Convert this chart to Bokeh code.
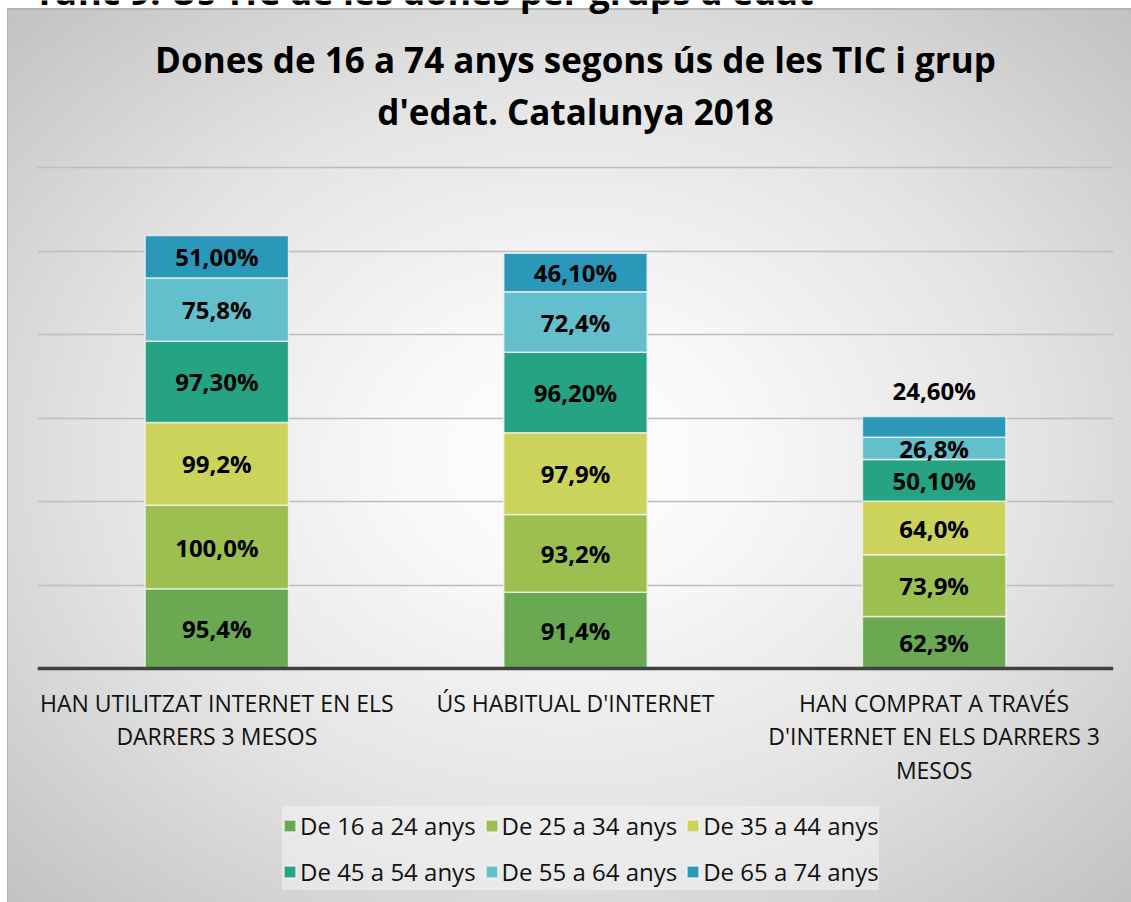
from bokeh.plotting import figure
from bokeh.models import ColumnDataSource, FactorRange, Range1d, FixedTicker, Span, Legend, LegendItem
from bokeh.core.properties import value
from bokeh.embed import file_html
from bokeh.resources import INLINE

# ---------------- data ----------------
categories = [
    "HAN UTILITZAT INTERNET EN ELS\nDARRERS 3 MESOS",
    "ÚS HABITUAL D'INTERNET",
    "HAN COMPRAT A TRAVÉS\nD'INTERNET EN ELS DARRERS 3\nMESOS",
]
series_names = ["De 16 a 24 anys", "De 25 a 34 anys", "De 35 a 44 anys",
                "De 45 a 54 anys", "De 55 a 64 anys", "De 65 a 74 anys"]
v_16_24 = [95.4, 91.4, 62.3]
v_25_34 = [100.0, 93.2, 73.9]
v_35_44 = [99.2, 97.9, 64.0]
v_45_54 = [97.3, 96.2, 50.1]
v_55_64 = [75.8, 72.4, 26.8]
v_65_74 = [51.0, 46.1, 24.6]
label_decimals = [1, 1, 1, 2, 1, 2]
colors = ["#6AA852", "#9CBF50", "#CBD35A", "#26A383", "#62BFCB", "#2B98BA"]
title_lines = ["Dones de 16 a 74 anys segons ús de les TIC i grup",
               "d'edat. Catalunya 2018"]
page_caption = "Gràfic 9. Ús TIC de les dones per grups d'edat"
grid_ticks = [100, 200, 300, 400, 500, 600]

series_values = [v_16_24, v_25_34, v_35_44, v_45_54, v_55_64, v_65_74]
keys = ["s%d" % i for i in range(6)]

FONT = "Open Sans"

data = {"cat": categories}
for k, vals in zip(keys, series_values):
    data[k] = vals
source = ColumnDataSource(data)

bg = ("linear-gradient(#b4b4b4,#b4b4b4) 7px 8px / 100% 2px no-repeat, "
      "linear-gradient(#b4b4b4,#b4b4b4) 7px 8px / 1px 100% no-repeat, "
      "radial-gradient(ellipse farthest-corner at 50% 50%, #ffffff 0%, #f8f8f8 22%, #e4e4e4 58%, #c2c2c2 100%) "
      "8px 10px / calc(100% - 8px) calc(100% - 10px) no-repeat, #ffffff")

p = figure(
    width=1131, height=902,
    x_range=FactorRange(*categories, range_padding=0),
    y_range=Range1d(-280.2, 800.0),
    output_backend="svg", toolbar_location=None,
    min_border_left=37, min_border_right=18, min_border_top=0, min_border_bottom=0,
    styles={"background": bg},
)
p.border_fill_alpha = 0
p.background_fill_alpha = 0
p.outline_line_color = None
p.xaxis.visible = False
p.yaxis.visible = False
p.xgrid.grid_line_color = None
p.yaxis.ticker = FixedTicker(ticks=grid_ticks)
p.ygrid.ticker = FixedTicker(ticks=grid_ticks)
p.ygrid.grid_line_color = "#bdbdbd"
p.ygrid.grid_line_width = 1.5

renderers = p.vbar_stack(keys, x="cat", width=0.4, color=colors, source=source,
                         line_color="#f2f2f2", line_width=1.5, line_alpha=0.8)

p.add_layout(Span(location=0, dimension="width", line_color="#404040", line_width=3.5))

# value labels
lx, ly, lt = [], [], []
for ci, cat in enumerate(categories):
    cum = 0.0
    for si, vals in enumerate(series_values):
        val = vals[ci]
        mid = cum + val / 2
        if si == len(series_values) - 1 and val < 25:
            mid = cum + val + 31
        cum += val
        s = ("{:.%df}%%" % label_decimals[si]).format(val).replace(".", ",")
        lx.append(cat); ly.append(mid); lt.append(s)
p.text(x=lx, y=ly, text=lt, text_align="center", text_baseline="middle",
       text_font=value(FONT), text_font_style="bold", text_font_size="24px",
       text_color="#000000")

# category labels
cx, cy, ct = [], [], []
for cat in categories:
    for i, line in enumerate(cat.split("\n")):
        cx.append(cat); cy.append(-41.3 - i * 40.1); ct.append(line)
p.text(x=cx, y=cy, text=ct, text_align="center", text_baseline="middle",
       text_font=value(FONT), text_font_size="23px", text_color="#111111")

# title
p.text(x=[categories[1], categories[1]], y=[729.3, 667.1], text=title_lines,
       text_align="center", text_baseline="middle",
       text_font=value(FONT), text_font_style="bold", text_font_size="35px",
       text_color="#000000")

# cut-off page caption above the chart box (only its lower part is visible, as in the source)
p.text(x=[categories[0]], y=[790.0], x_offset=-204, y_offset=-17, text=[page_caption],
       text_align="left", text_baseline="middle",
       text_font=value(FONT), text_font_style="bold", text_font_size="36px",
       text_color="#000000")

legend = Legend(
    items=[LegendItem(label=n, renderers=[r]) for n, r in zip(series_names, renderers)],
    location=(245, 12), orientation="horizontal", ncols=3,
    label_text_font=FONT, label_text_font_size="24px", label_text_color="#111111",
    glyph_width=15, glyph_height=15, label_standoff=3, spacing=8, label_height=38,
    padding=8, margin=0,
    background_fill_color="#f4f4f4", background_fill_alpha=0.55, border_line_color=None,
)
p.add_layout(legend)

open("out.html", "w").write(file_html(p, INLINE))
